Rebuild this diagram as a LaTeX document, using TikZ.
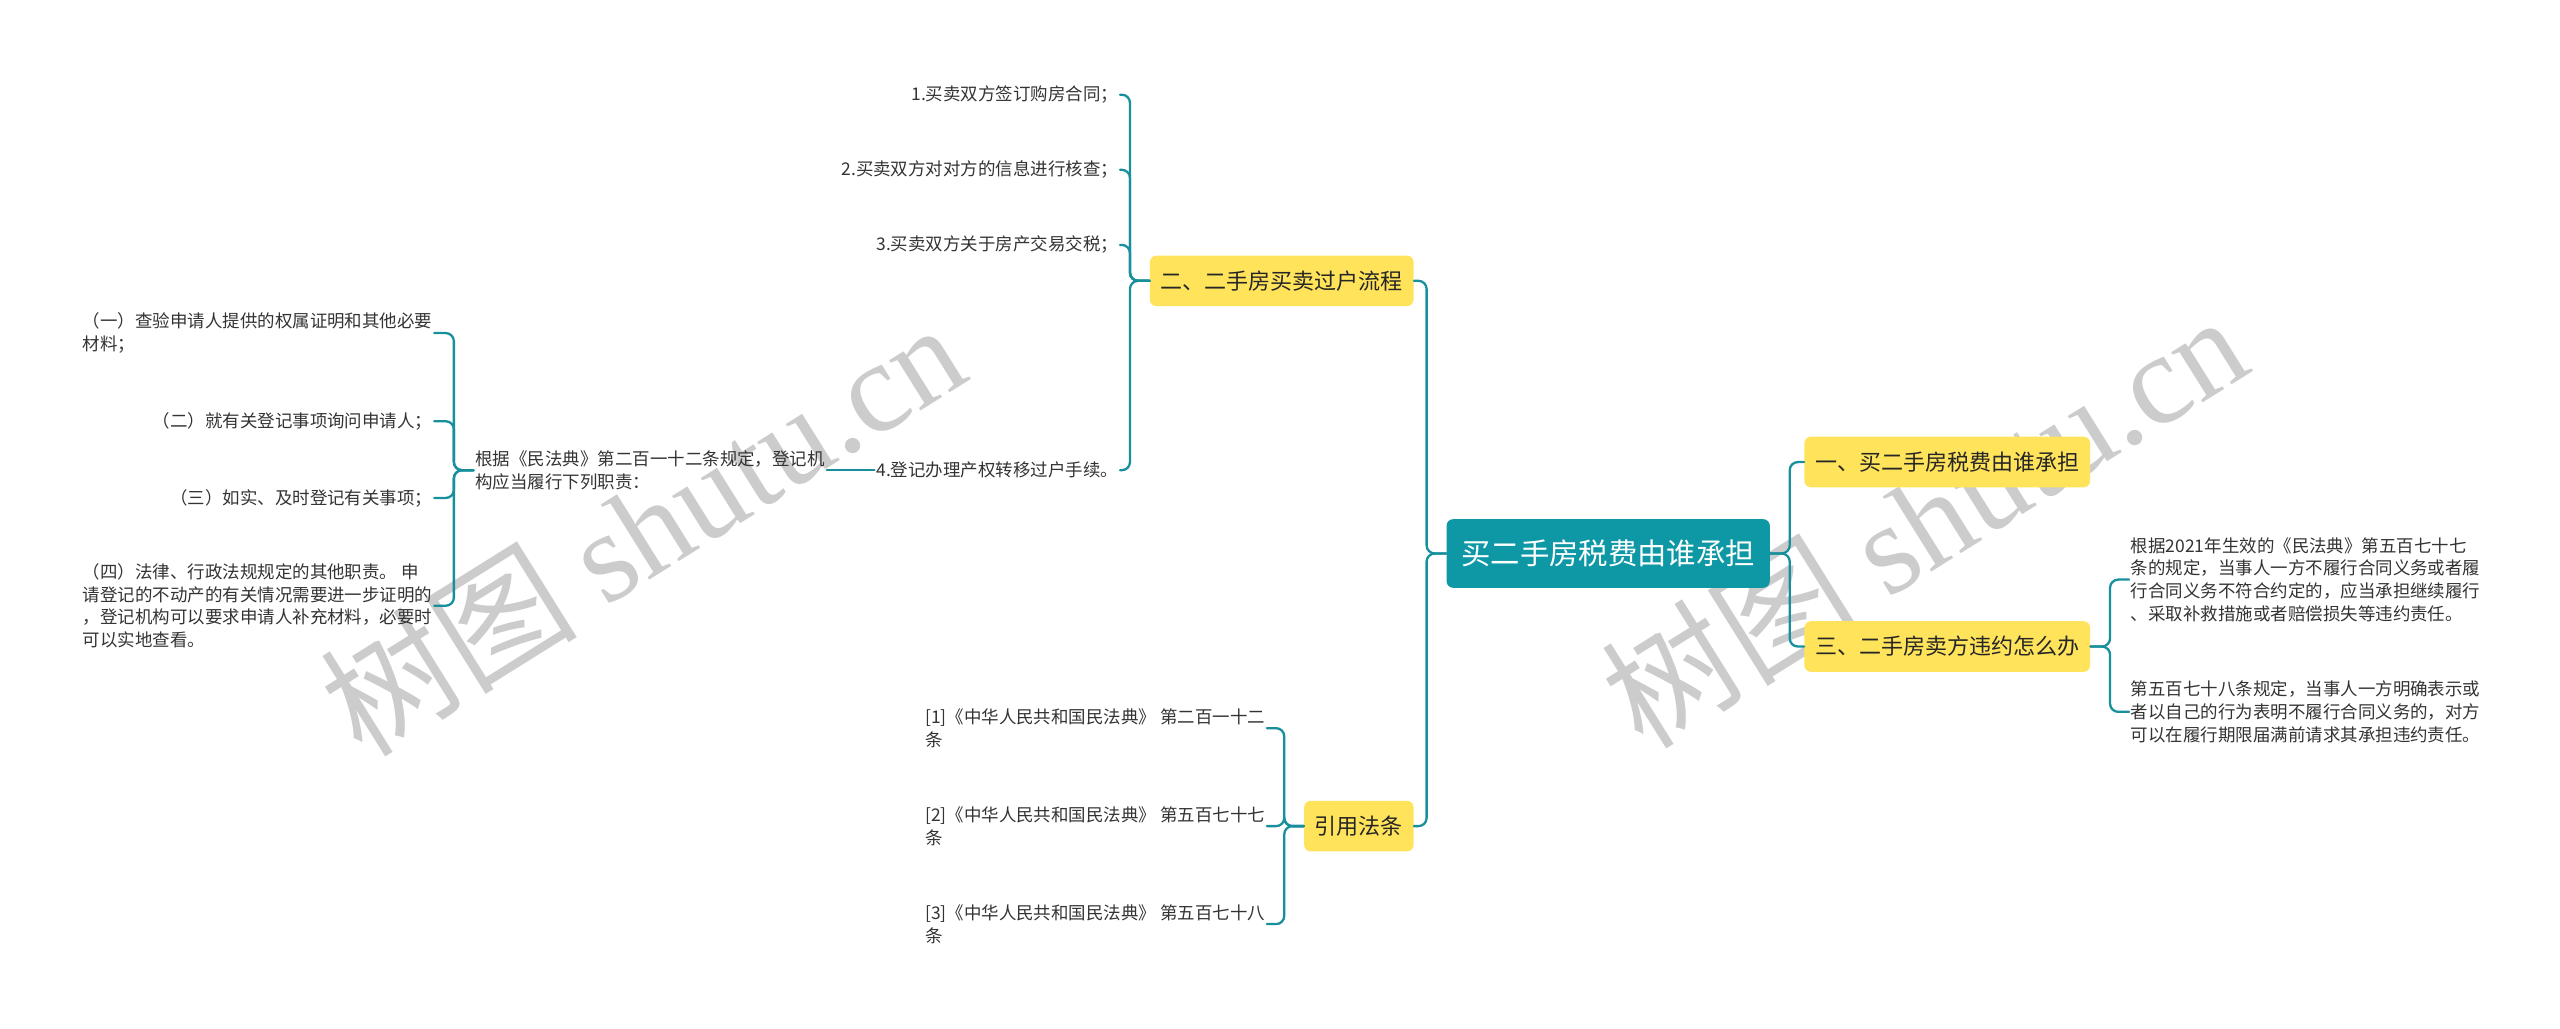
\documentclass[tikz,border=0pt]{standalone}
\usepackage{fontspec}
\setmainfont{Noto Sans CJK SC}
\newfontfamily\markfont{Liberation Serif}
\usepackage{xcolor}
\definecolor{rootteal}{HTML}{0E98A6}
\definecolor{linkteal}{HTML}{178F9C}
\definecolor{tagyellow}{HTML}{FFE35A}
\definecolor{leafgray}{HTML}{333333}

\begin{document}
\begin{tikzpicture}[x=1pt,y=-1pt,line cap=round,
  rootbox/.style={fill=rootteal,text=white,rounded corners=4pt,font=\fontsize{18}{20}\selectfont,minimum height=42pt,inner xsep=9pt},
  tagbox/.style={fill=tagyellow,text=black!85,rounded corners=4pt,font=\fontsize{13.5}{15}\selectfont,minimum height=31pt,inner xsep=6.5pt},
  leaf/.style={font=\fontsize{10.7}{13.8}\selectfont,align=left,inner sep=1pt,text=leafgray},
  link/.style={draw=linkteal,line width=1.4pt,rounded corners=5pt},
  wmark/.style={text=black!20,rotate=32,font=\fontsize{79}{79}\selectfont}]
\useasboundingbox (0,0) rectangle (1568,630);
\node[wmark] (markL) at (393,323) {树图 {\markfont shutu.cn}};
\node[wmark] (markR) at (1178,318) {树图 {\markfont shutu.cn}};
\node[rootbox] (root) at (985,339) {买二手房税费由谁承担};
\node[tagbox,anchor=east] (flow) at (866,172) {二、二手房买卖过户流程};
\node[tagbox,anchor=east] (cite) at (866,506) {引用法条};
\node[tagbox,anchor=west] (tax) at (1105,283) {一、买二手房税费由谁承担};
\node[tagbox,anchor=west] (breach) at (1105,396) {三、二手房卖方违约怎么办};
\node[leaf,anchor=east] (step1) at (686,58) {1.买卖双方签订购房合同；};
\node[leaf,anchor=east] (step2) at (686,104) {2.买卖双方对对方的信息进行核查；};
\node[leaf,anchor=east] (step3) at (686,150) {3.买卖双方关于房产交易交税；};
\node[leaf,anchor=east] (step4) at (686,288) {4.登记办理产权转移过户手续。};
\node[leaf,anchor=west] (duty) at (290,288) {根据《民法典》第二百一十二条规定，登记机\\构应当履行下列职责：};
\node[leaf,anchor=east] (duty1) at (266,204) {（一）查验申请人提供的权属证明和其他必要\\材料；};
\node[leaf,anchor=east] (duty2) at (266,258) {（二）就有关登记事项询问申请人；};
\node[leaf,anchor=east] (duty3) at (266,305) {（三）如实、及时登记有关事项；};
\node[leaf,anchor=east] (duty4) at (266,371) {（四）法律、行政法规规定的其他职责。 申\\请登记的不动产的有关情况需要进一步证明的\\，登记机构可以要求申请人补充材料，必要时\\可以实地查看。};
\node[leaf,anchor=east] (law1) at (776,446) {[1]《中华人民共和国民法典》 第二百一十二\\条};
\node[leaf,anchor=east] (law2) at (776,506) {[2]《中华人民共和国民法典》 第五百七十七\\条};
\node[leaf,anchor=east] (law3) at (776,566) {[3]《中华人民共和国民法典》 第五百七十八\\条};
\node[leaf,anchor=west] (art577) at (1304,355) {根据2021年生效的《民法典》第五百七十七\\条的规定，当事人一方不履行合同义务或者履\\行合同义务不符合约定的，应当承担继续履行\\、采取补救措施或者赔偿损失等违约责任。};
\node[leaf,anchor=west] (art578) at (1304,436) {第五百七十八条规定，当事人一方明确表示或\\者以自己的行为表明不履行合同义务的，对方\\可以在履行期限届满前请求其承担违约责任。};
\draw[link] (root.west) -- ++(-12,0) |- (flow.east);
\draw[link] (root.west) -- ++(-12,0) |- (cite.east);
\draw[link] (root.east) -- ++(12,0) |- (tax.west);
\draw[link] (root.east) -- ++(12,0) |- (breach.west);
\foreach \s in {step1,step2,step3,step4}
  \draw[link] (flow.west) -- ++(-12,0) |- (\s.east);
\draw[link] (step4.west) -- (duty.east);
\foreach \d in {duty1,duty2,duty3,duty4}
  \draw[link] (duty.west) -- ++(-12,0) |- (\d.east);
\foreach \l in {law1,law2,law3}
  \draw[link] (cite.west) -- ++(-12,0) |- (\l.east);
\foreach \a in {art577,art578}
  \draw[link] (breach.east) -- ++(12,0) |- (\a.west);
\end{tikzpicture}
\end{document}
